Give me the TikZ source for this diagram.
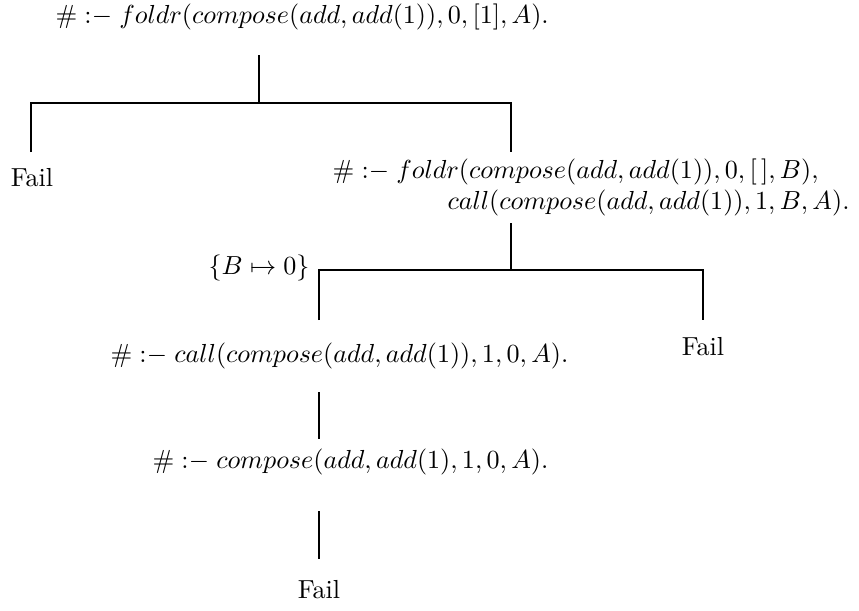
\documentclass[tikz,border=0pt]{standalone}
\newcommand{\nk}{\#\mathrel{{:}{-}}}
\newlength\pxu
\AtBeginDocument{\settowidth{\pxu}{$\nk foldr(compose(add,add(1)),0,[\,],B),$}\divide\pxu by 486\relax}
\begin{document}
\begin{tikzpicture}[x=\pxu,y=-\pxu,
  edge/.style={line width=0.85pt},
  txt/.style={inner sep=0pt,anchor=base},
  txtw/.style={inner sep=0pt,anchor=base west}]
\useasboundingbox (0,0) rectangle (859,610);
% nodes
\node[txtw] (root) at (55,23) {$\nk foldr(compose(add,add(1)),0,[1],A).$};
\node[txt] (f1) at (32,186) {Fail};
\node[txtw,align=left] (n2) at (332,209) {$\nk foldr(compose(add,add(1)),0,[\,],B),$\\[-0.4pt]\hspace*{115\pxu}$call(compose(add,add(1)),1,B,A).$};
\node[txtw] (n3) at (110,362) {$\nk call(compose(add,add(1)),1,0,A).$};
\node[txt] (f2) at (703,355) {Fail};
\node[txtw] (n4) at (152,468) {$\nk compose(add,add(1),1,0,A).$};
\node[txt] (f3) at (319,598) {Fail};
% junction coordinates
\coordinate (r0) at (259,55);
\coordinate (r1) at (259,103);
\coordinate (a0) at (31,103);
\coordinate (a1) at (31,152);
\coordinate (b0) at (511,103);
\coordinate (b1) at (511,152);
\coordinate (c0) at (511,223);
\coordinate (c1) at (511,270);
\coordinate (d0) at (319,270);
\coordinate (d1) at (319,320);
\coordinate (e0) at (703,270);
\coordinate (e1) at (703,320);
\coordinate (g0) at (319,392);
\coordinate (g1) at (319,439);
\coordinate (h0) at (319,511);
\coordinate (h1) at (319,559);
\node[inner sep=0pt,anchor=east] (lab) at (310,268) {$\{B\mapsto 0\}$};
% connectors
\draw[edge] (r0) -- (r1);
\draw[edge] (a1) -- (a0) -- (b0) -- (b1);
\draw[edge] (c0) -- (c1);
\draw[edge] (d1) -- (d0) -- (e0) -- (e1);
\draw[edge] (g0) -- (g1);
\draw[edge] (h0) -- (h1);
\end{tikzpicture}
\end{document}
